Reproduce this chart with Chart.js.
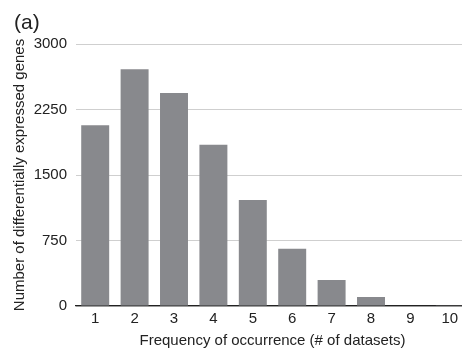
<!DOCTYPE html>
<html>
<head>
<meta charset="utf-8">
<script src="https://cdn.jsdelivr.net/npm/chart.js@4/dist/chart.umd.min.js"></script>
<style>
  html, body { margin: 0; padding: 0; background: #fff; }
  #wrap { position: relative; width: 462px; height: 353px; overflow: hidden; }
  #panel { position: absolute; left: 14px; top: 11px; font: 21px "Liberation Sans", Arial, sans-serif; line-height: 22px; color: #222; }
  canvas { position: absolute; left: 0; top: 0; }
</style>
</head>
<body>
<div id="wrap">
  <canvas id="barChart" width="472" height="353"></canvas>
  <div id="panel">(a)</div>
</div>
<script>
const categories = ['1', '2', '3', '4', '5', '6', '7', '8', '9', '10'];
const geneCounts = [2070, 2710, 2440, 1845, 1215, 655, 298, 103, 6, 2];
const yTicks = [0, 750, 1500, 2250, 3000];

const font = { family: '"Liberation Sans", Arial, sans-serif', size: 15 };

const data = {
    labels: categories,
    datasets: [{
        data: geneCounts,
        backgroundColor: '#88898d',
        borderWidth: 0,
        barPercentage: 0.71,
        categoryPercentage: 1.0
    }]
};

const config = {
    type: 'bar',
    data,
    options: {
        responsive: false,
        animation: false,
        layout: { padding: { top: 44, right: 2.5, bottom: 3, left: 11 } },
        plugins: {
            legend: { display: false },
            tooltip: { enabled: false }
        },
        scales: {
            x: {
                grid: { display: false, drawTicks: false },
                border: { display: true, color: '#222', width: 1.2 },
                ticks: { font, color: '#222', padding: 4 },
                title: { display: true, text: 'Frequency of occurrence (# of datasets)', font, color: '#222', padding: { top: 0, bottom: 0 } }
            },
            y: {
                min: 0,
                max: 3000,
                afterBuildTicks: axis => { axis.ticks = yTicks.map(v => ({ value: v })); },
                afterFit: axis => { axis.width = 64.5; },
                grid: {
                    color: ctx => ctx.tick && ctx.tick.value === 0 ? '#222' : '#cfcfcf',
                    lineWidth: ctx => ctx.tick && ctx.tick.value === 0 ? 1.2 : 1,
                    drawTicks: false
                },
                border: { display: false },
                ticks: { font, color: '#222', padding: 8.5, callback: v => String(v) },
                title: { display: true, text: 'Number of differentially expressed genes', font, color: '#222', padding: 0 }
            }
        }
    }
};

let chart;
window.addEventListener('load', function () {
    chart = new Chart(document.getElementById('barChart').getContext('2d'), config);
});
</script>
</body>
</html>
